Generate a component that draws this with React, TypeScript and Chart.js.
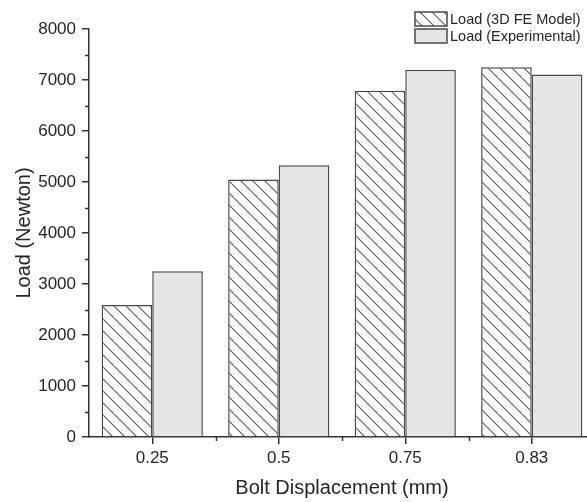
import React, { useEffect, useRef } from "react";
import { Chart, registerables } from "chart.js";

Chart.register(...registerables);

// Bolt displacement categories (mm)
const displacements = ["0.25", "0.5", "0.75", "0.83"];
// Load from the 3D finite element model (N)
const feModelLoad = [2590, 5050, 6790, 7250];
// Load measured in the experiment (N)
const experimentalLoad = [3250, 5330, 7200, 7110];

const seriesLabels = ["Load (3D FE Model)", "Load (Experimental)"];
const yMajorStep = 1000;
const yMinorStep = 500;
const yMax = 8000;

const FONT = "'Liberation Sans', Arial, Helvetica, sans-serif";
const AXIS = "#333333";
const EDGE = "#4a4a4a";
const TEXT = "#262626";
const GRAY_FILL = "#e6e6e6";

function makeHatch(): CanvasPattern | string {
  const size = 12;
  const c = document.createElement("canvas");
  c.width = size;
  c.height = size;
  const g = c.getContext("2d");
  if (!g) return "#ffffff";
  g.fillStyle = "#ffffff";
  g.fillRect(0, 0, size, size);
  g.strokeStyle = "#5a5a5a";
  g.lineWidth = 1.1;
  g.beginPath();
  g.moveTo(-1, -1);
  g.lineTo(size + 1, size + 1);
  g.moveTo(-1, size - 1);
  g.lineTo(1, size + 1);
  g.moveTo(size - 1, -1);
  g.lineTo(size + 1, 1);
  g.stroke();
  const p = g.createPattern(c, "repeat");
  return p || "#ffffff";
}

export default function App() {
  const ref = useRef<HTMLCanvasElement | null>(null);

  useEffect(() => {
    const canvas = ref.current;
    if (!canvas) return;
    const hatch = makeHatch();

    // minor tick marks on both axes
    const minorTicks = {
      id: "minorTicks",
      afterDraw(chart: any) {
        const { ctx, chartArea, scales } = chart;
        const x = scales.x;
        const y = scales.y;
        ctx.save();
        ctx.strokeStyle = AXIS;
        ctx.lineWidth = 1.5;
        ctx.beginPath();
        for (let v = yMinorStep; v < yMax; v += yMajorStep) {
          const py = Math.round(y.getPixelForValue(v)) + 0.5;
          ctx.moveTo(chartArea.left - 4, py);
          ctx.lineTo(chartArea.left, py);
        }
        for (let i = 0; i < displacements.length - 1; i++) {
          const px =
            Math.round((x.getPixelForValue(i) + x.getPixelForValue(i + 1)) / 2) + 0.5;
          ctx.moveTo(px, chartArea.bottom);
          ctx.lineTo(px, chartArea.bottom + 4);
        }
        ctx.stroke();
        ctx.restore();
      },
    };

    // legend box drawn inside the plot area, top right
    const insideLegend = {
      id: "insideLegend",
      afterDraw(chart: any) {
        const { ctx, chartArea } = chart;
        const fills = [hatch, GRAY_FILL];
        const bx = chartArea.right - 180;
        const rows = [12, 29];
        ctx.save();
        ctx.font = `14.5px ${FONT}`;
        ctx.textBaseline = "middle";
        ctx.textAlign = "left";
        rows.forEach((ty, i) => {
          ctx.fillStyle = fills[i] as any;
          ctx.fillRect(bx, ty, 32, 14);
          ctx.strokeStyle = EDGE;
          ctx.lineWidth = 1.5;
          ctx.strokeRect(bx, ty, 32, 14);
          ctx.fillStyle = TEXT;
          ctx.fillText(seriesLabels[i], bx + 35, ty + 7.5);
        });
        ctx.restore();
      },
    };

    const chart = new Chart(canvas, {
      type: "bar",
      data: {
        labels: displacements,
        datasets: [
          {
            label: seriesLabels[0],
            data: feModelLoad,
            backgroundColor: hatch as any,
            borderColor: EDGE,
            borderWidth: 1.5,
            categoryPercentage: 0.8,
            barPercentage: 1,
          },
          {
            label: seriesLabels[1],
            data: experimentalLoad,
            backgroundColor: GRAY_FILL,
            borderColor: EDGE,
            borderWidth: 1.5,
            categoryPercentage: 0.8,
            barPercentage: 1,
          },
        ],
      },
      options: {
        responsive: false,
        animation: false,
        layout: { padding: { top: 29, right: 5, left: 0, bottom: 0 } },
        plugins: {
          legend: { display: false },
          tooltip: { enabled: false },
        },
        scales: {
          x: {
            offset: true,
            grid: {
              offset: false,
              drawOnChartArea: false,
              drawTicks: true,
              tickLength: 7,
              color: AXIS,
              lineWidth: 1.5,
            },
            border: { display: true, color: AXIS, width: 1.5 },
            ticks: {
              color: TEXT,
              font: { family: FONT, size: 17 },
              padding: 4,
              maxRotation: 0,
            },
            title: {
              display: true,
              text: "Bolt Displacement (mm)",
              color: TEXT,
              font: { family: FONT, size: 20 },
              padding: { top: 0, bottom: 2 },
            },
            afterFit(scale: any) {
              scale.height = 65;
            },
          },
          y: {
            min: 0,
            max: yMax,
            grid: {
              drawOnChartArea: false,
              drawTicks: true,
              tickLength: 7,
              color: AXIS,
              lineWidth: 1.5,
            },
            border: { display: true, color: AXIS, width: 1.5 },
            ticks: {
              stepSize: yMajorStep,
              color: TEXT,
              font: { family: FONT, size: 17 },
              padding: 6,
              callback: (v: any) => String(v),
            },
            title: {
              display: true,
              text: "Load (Newton)",
              color: TEXT,
              font: { family: FONT, size: 20 },
              padding: { top: 12, bottom: 0 },
            },
            afterFit(scale: any) {
              scale.width = 89;
            },
          },
        },
      },
      plugins: [minorTicks, insideLegend],
    });

    return () => chart.destroy();
  }, []);

  return (
    <div
      style={{
        position: "absolute",
        left: 0,
        top: 0,
        width: 587,
        height: 502,
        overflow: "hidden",
        background: "#ffffff",
      }}
    >
      <canvas ref={ref} width={600} height={502} style={{ display: "block" }} />
    </div>
  );
}
